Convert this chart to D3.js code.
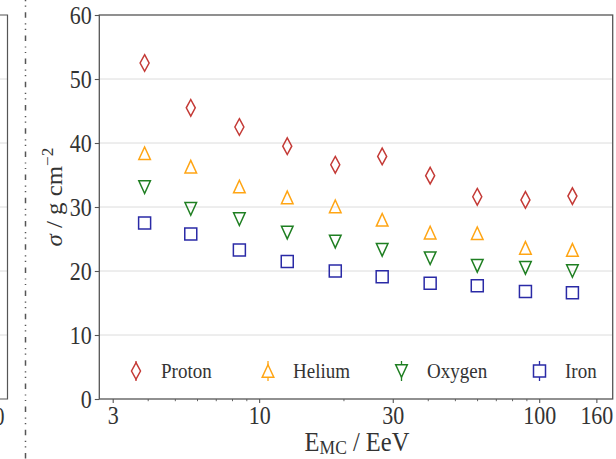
<!DOCTYPE html>
<html>
<head>
<meta charset="utf-8">
<script src="https://cdn.jsdelivr.net/npm/d3@7"></script>
<style>
  html, body { margin: 0; padding: 0; background: #fff; }
  svg { display: block; }
  text { font-family: "Liberation Serif", "Times New Roman", serif; fill: #333; }
</style>
</head>
<body>
<div id="chart"></div>
<script>
// Energy bin centres (EeV) shared by all primaries
const energies = [3.9, 5.7, 8.5, 12.6, 18.7, 27.5, 40.8, 60.1, 89.3, 131.4];

// Xmax fluctuations sigma (g/cm^2) per primary
const proton = [52.5, 45.5, 42.5, 39.5, 36.6, 37.9, 34.9, 31.6, 31.1, 31.7];
const helium = [38.4, 36.3, 33.2, 31.5, 30.1, 28.0, 26.0, 25.9, 23.6, 23.3];
const oxygen = [33.1, 29.7, 28.1, 26.0, 24.6, 23.3, 22.0, 20.8, 20.5, 20.0];
const iron   = [27.5, 25.8, 23.3, 21.5, 20.0, 19.1, 18.1, 17.7, 16.8, 16.6];

const seriesNames = ["Proton", "Helium", "Oxygen", "Iron"];

// Axis ticks
const yTicks = [0, 10, 20, 30, 40, 50, 60];
const xMajorTicks = [3, 10, 30, 100, 160];
const xMinorTicks = [4, 5, 6, 7, 8, 9, 20, 40, 50, 60, 70, 80, 90];

const W = 616, H = 459;
const plot = { left: 99.3, right: 612.7, top: 15, bottom: 399 };
const textStretch = 1.15;

const svg = d3.select("#chart").append("svg")
  .attr("width", W).attr("height", H);

const x = d3.scaleLog().domain([2.687, 183]).range([plot.left, plot.right]);
const y = d3.scaleLinear().domain([0, 60]).range([plot.bottom, plot.top]);

// Edge of the neighbouring panel on the left
const leftPanel = svg.append("g");
yTicks.filter(t => t > 0 && t < 60).forEach(t => {
  leftPanel.append("line")
    .attr("x1", 0).attr("x2", 7.5)
    .attr("y1", y(t)).attr("y2", y(t))
    .attr("stroke", "#dcdcdc").attr("stroke-width", 1);
});
leftPanel.append("path")
  .attr("d", `M0,${plot.top}H7.5V${plot.bottom}H0`)
  .attr("fill", "none").attr("stroke", "#555").attr("stroke-width", 1.2);
leftPanel.append("text")
  .attr("transform", `translate(-6,${plot.bottom + 26}) scale(1,${textStretch})`)
  .attr("font-size", 21).text("0");

// Dash-dot-dot separator between panels
svg.append("line")
  .attr("x1", 25.5).attr("x2", 25.5)
  .attr("y1", -11).attr("y2", H)
  .attr("stroke", "#555").attr("stroke-width", 1.5)
  .attr("stroke-dasharray", "5.5 5.5 1.2 4.3 1.2 5.5");

// Horizontal grid
svg.append("g")
  .selectAll("line")
  .data(yTicks.filter(t => t > 0 && t < 60))
  .join("line")
  .attr("x1", plot.left).attr("x2", plot.right)
  .attr("y1", d => y(d)).attr("y2", d => y(d))
  .attr("stroke", "#dcdcdc").attr("stroke-width", 1);

// Y axis
const yAxis = svg.append("g")
  .attr("transform", `translate(${plot.left},0)`)
  .call(d3.axisLeft(y).tickValues(yTicks).tickSize(4.5).tickPadding(3).tickFormat(d3.format("d")));
yAxis.select(".domain").remove();
yAxis.selectAll(".tick line").attr("stroke", "#555").attr("stroke-width", 1.1);
yAxis.selectAll(".tick text")
  .attr("font-family", "Liberation Serif").attr("font-size", 22).attr("fill", "#333")
  .attr("dy", null).attr("dominant-baseline", "central")
  .attr("x", 0)
  .attr("transform", `translate(-7.5,0) scale(1,${textStretch})`);

// X axis (log), major and minor ticks
const xAxis = svg.append("g")
  .attr("transform", `translate(0,${plot.bottom})`)
  .call(d3.axisBottom(x).tickValues(xMajorTicks).tickSize(4).tickPadding(4).tickFormat(d3.format("d")));
xAxis.select(".domain").remove();
xAxis.selectAll(".tick line").attr("stroke", "#555").attr("stroke-width", 1.1);
xAxis.selectAll(".tick text")
  .attr("font-family", "Liberation Serif").attr("font-size", 22).attr("fill", "#333")
  .attr("dy", null).attr("y", 0)
  .attr("transform", `translate(0,24.5) scale(1,${textStretch})`);

const xMinor = svg.append("g")
  .attr("transform", `translate(0,${plot.bottom})`)
  .call(d3.axisBottom(x).tickValues(xMinorTicks).tickSize(2.2).tickFormat(""));
xMinor.select(".domain").remove();
xMinor.selectAll(".tick line").attr("stroke", "#555").attr("stroke-width", 0.9);

// Frame
svg.append("rect")
  .attr("x", plot.left).attr("y", plot.top)
  .attr("width", plot.right - plot.left).attr("height", plot.bottom - plot.top)
  .attr("fill", "none").attr("stroke", "#555").attr("stroke-width", 1.3);

// Marker shapes
const markerPath = {
  Proton: "M0,-8.3L4.5,0L0,8.3L-4.5,0Z",
  Helium: "M0,-6.3L5.8,6.3L-5.8,6.3Z",
  Oxygen: "M0,6.3L5.8,-6.3L-5.8,-6.3Z",
  Iron:   "M-6,-6H6V6H-6Z"
};
const colors = {
  Proton: "#c43a36",
  Helium: "#ffa514",
  Oxygen: "#1f7f22",
  Iron:   "#2a2aa6"
};
const seriesData = { Proton: proton, Helium: helium, Oxygen: oxygen, Iron: iron };

seriesNames.forEach(name => {
  svg.append("g")
    .selectAll("path")
    .data(energies.map((e, i) => ({ e, v: seriesData[name][i] })))
    .join("path")
    .attr("d", markerPath[name])
    .attr("transform", d => `translate(${x(d.e)},${y(d.v)})`)
    .attr("fill", "none")
    .attr("stroke", colors[name])
    .attr("stroke-width", 1.5)
    .attr("stroke-linejoin", "miter");
});

// Legend (errorbar-style handles)
const legendItems = [
  { name: "Proton", mx: 136, tx: 161 },
  { name: "Helium", mx: 268, tx: 293 },
  { name: "Oxygen", mx: 401.5, tx: 427 },
  { name: "Iron",   mx: 539.5, tx: 565 }
];
const legendY = 371;
const lg = svg.append("g");
legendItems.forEach(it => {
  const g = lg.append("g").attr("transform", `translate(${it.mx},${legendY})`);
  g.append("line").attr("x1", 0).attr("x2", 0).attr("y1", -10).attr("y2", 10)
    .attr("stroke", colors[it.name]).attr("stroke-width", 1.3);
  g.append("path").attr("d", markerPath[it.name])
    .attr("fill", "#fff").attr("stroke", colors[it.name]).attr("stroke-width", 1.5);
  lg.append("text")
    .attr("transform", `translate(${it.tx},${legendY + 6.5}) scale(1,${textStretch})`)
    .attr("font-size", 19).text(it.name);
});

// Axis titles
const xt = svg.append("text")
  .attr("transform", `translate(357,451) scale(1,1.1)`)
  .attr("text-anchor", "middle").attr("font-size", 24.5);
xt.append("tspan").text("E");
xt.append("tspan").attr("font-size", 17.5).attr("dy", 3).text("MC");
xt.append("tspan").attr("dy", -3).text(" / EeV");

const yt = svg.append("text")
  .attr("transform", `translate(62,197) rotate(-90) scale(1.08,1)`)
  .attr("text-anchor", "middle").attr("font-size", 23);
yt.append("tspan").attr("font-style", "italic").text("σ");
yt.append("tspan").text(" / g cm");
yt.append("tspan").attr("font-size", 16).attr("dy", -9).text("−2");
</script>
</body>
</html>
